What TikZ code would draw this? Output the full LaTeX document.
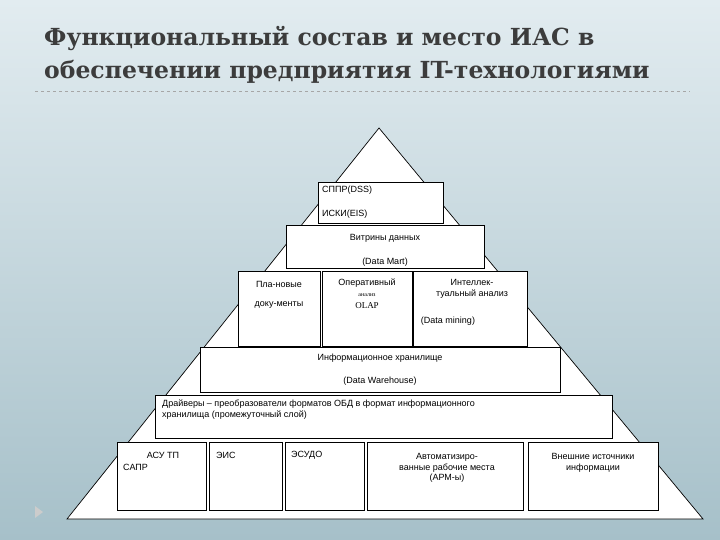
\documentclass[tikz,border=0pt]{standalone}
\usepackage{fontspec}
\setmainfont{Liberation Sans}
\newfontfamily\titlefont{DejaVu Serif}
\newfontfamily\serf{Liberation Serif}
\begin{document}
\begin{tikzpicture}[x=1pt,y=-1pt,
  bx/.style={draw=black,fill=white,line width=0.6pt},
  tx/.style={font=\fontsize{9}{10.5}\selectfont,inner sep=0pt,align=center},
  ttl/.style={anchor=west,font=\titlefont\bfseries\fontsize{23.5}{28}\selectfont,text={rgb,255:red,60;green,60;blue,60},inner sep=0pt}]
\useasboundingbox (0,0) rectangle (720,540);
\shade[top color={rgb,255:red,226;green,236;blue,240}, bottom color={rgb,255:red,166;green,192;blue,201}] (0,0) rectangle (720,540);
\node[ttl] (t1) at (44,39) {Функциональный состав и место ИАС в};
\node[ttl] (t2) at (44,72) {обеспечении предприятия IT-технологиями};
\draw[dashed,gray!70] (35,91) -- (690,91);
\fill[gray!40] (35,506) -- (43,512) -- (35,518) -- cycle;
\draw[fill=white,line width=0.7pt] (379,128) -- (703,519) -- (67,519) -- cycle;
\draw[bx] (318,182) rectangle (443,223);
\node[tx,anchor=west] (a1) at (322,190) {СППР(DSS)};
\node[tx,anchor=west] (a2) at (322,214) {ИСКИ(EIS)};
\draw[bx] (286,225) rectangle (484,268);
\node[tx] (b1) at (385,238) {Витрины данных};
\node[tx] (b2) at (385,262) {(Data Mart)};
\draw[bx] (238,271) rectangle (320,346);
\node[tx] (c1) at (279,284) {Пла-новые};
\node[tx] (c2) at (279,305) {доку-менты};
\draw[bx] (322,271) rectangle (412,346);
\node[tx] (d1) at (367,283) {Оперативный};
\node[tx,font=\serf\fontsize{6}{7}\selectfont] (d2) at (367,295) {анализ};
\node[tx,font=\serf\fontsize{9}{10}\selectfont] (d3) at (367,306) {OLAP};
\draw[bx] (413,271) rectangle (527,346);
\node[tx] (e1) at (472,289) {Интеллек-\\туальный анализ};
\node[tx] (e2) at (448,321) {(Data mining)};
\draw[bx] (200,347) rectangle (560,392);
\node[tx] (f1) at (380,358) {Информационное хранилище};
\node[tx] (f2) at (380,381) {(Data Warehouse)};
\draw[bx] (155,395) rectangle (612,438);
\node[tx,align=left,anchor=north west] (g1) at (162,400) {Драйверы – преобразователи форматов ОБД в формат информационного\\хранилища (промежуточный слой)};
\draw[bx] (117,442) rectangle (206,510);
\node[tx] (h1) at (163,455) {АСУ ТП};
\node[tx,anchor=west] (h2) at (123,467) {САПР};
\draw[bx] (209,442) rectangle (282,510);
\node[tx,anchor=west] (h3) at (216,455) {ЭИС};
\draw[bx] (285,442) rectangle (364,510);
\node[tx,anchor=west] (h4) at (291,455) {ЭСУДО};
\draw[bx] (367,442) rectangle (523,510);
\node[tx] (h5) at (447,468) {Автоматизиро-\\ванные рабочие места\\(АРМ-ы)};
\draw[bx] (528,442) rectangle (658,510);
\node[tx] (h6) at (593,463) {Внешние источники\\информации};
\end{tikzpicture}
\end{document}
